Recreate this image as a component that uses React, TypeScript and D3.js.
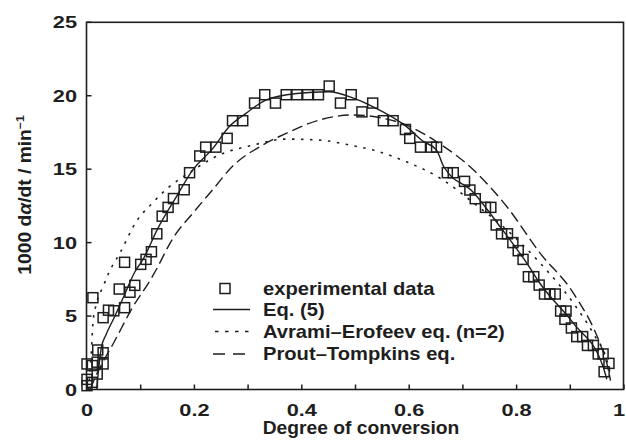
import React from "react";
import * as d3 from "d3";

// Experimental data (degree of conversion, 1000 dα/dt)
const expAlpha = [
  0.0, 0.01, 0.0, 0.019, 0.0, 0.01, 0.019, 0.03, 0.02, 0.03, 0.011, 0.03, 0.04, 0.05, 0.06, 0.07, 0.07, 0.08, 0.089,
  0.1, 0.11, 0.12, 0.13, 0.14, 0.151, 0.161, 0.181, 0.191, 0.21, 0.221, 0.24, 0.261, 0.271, 0.29, 0.312, 0.331,
  0.351, 0.371, 0.391, 0.411, 0.431, 0.451, 0.472, 0.492, 0.512, 0.532, 0.552, 0.57, 0.593, 0.601, 0.621, 0.641,
  0.651, 0.671, 0.682, 0.703, 0.713, 0.723, 0.742, 0.752, 0.762, 0.772, 0.783, 0.793, 0.803, 0.812, 0.822, 0.832,
  0.842, 0.852, 0.862, 0.872, 0.882, 0.892, 0.89, 0.902, 0.912, 0.923, 0.932, 0.943, 0.952, 0.961, 0.972, 0.963,
];
const expRate = [
  0.26, 0.49, 0.69, 1.05, 1.74, 1.63, 1.86, 1.74, 2.69, 2.5, 6.25, 4.89, 5.4, 5.36, 6.84, 5.57, 8.66, 6.62, 7.09,
  8.52, 8.86, 9.38, 10.6, 11.8, 12.4, 13.0, 13.6, 14.76, 15.9, 16.5, 16.5, 17.1, 18.3, 18.3, 19.5, 20.07,
  19.5, 20.07, 20.07, 20.07, 20.07, 20.66, 19.5, 20.07, 18.9, 19.5, 18.3, 18.3, 17.7, 17.1, 16.5, 16.5,
  16.5, 14.76, 14.76, 14.17, 13.58, 12.99, 12.4, 12.4, 11.2, 10.6, 10.6, 10.0, 9.45, 8.86, 7.68, 7.68,
  7.11, 6.5, 6.5, 6.5, 5.34, 5.34, 4.78, 4.19, 3.6, 3.6, 3.0, 3.0, 2.42, 2.42, 1.78, 1.21,
];

// Eq. (5)
const eq5Alpha = [0.018, 0.022, 0.027, 0.035, 0.05, 0.068, 0.089, 0.105, 0.131, 0.166, 0.197, 0.234, 0.265, 0.296, 0.333, 0.39, 0.451, 0.495, 0.533, 0.595, 0.626, 0.651, 0.664, 0.72, 0.769, 0.819, 0.844, 0.906, 0.961, 0.968];
const eq5Rate = [0, 1.5, 2.9, 3.7, 4.85, 6.3, 8.0, 8.9, 10.9, 13.1, 14.95, 16.4, 17.9, 18.8, 19.7, 20.15, 20.27, 19.85, 19.25, 17.9, 16.9, 16.3, 15.2, 13.4, 11.1, 8.6, 7.2, 4.5, 1.55, 0.7];

// Avrami–Erofeev eq. (n=2)
const avAlpha = [0.003, 0.008, 0.011, 0.018, 0.03, 0.04, 0.061, 0.093, 0.122, 0.153, 0.184, 0.246, 0.309, 0.371, 0.433, 0.495, 0.533, 0.595, 0.657, 0.72, 0.782, 0.844, 0.906, 0.943, 0.968, 0.975];
const avRate = [0, 2.5, 4.5, 5.9, 7.0, 7.9, 9.27, 11.5, 12.7, 13.8, 14.6, 15.96, 16.64, 17.05, 16.98, 16.6, 16.3, 15.5, 14.4, 12.7, 10.86, 8.6, 5.87, 3.8, 2.0, 1.0];

// Prout–Tompkins eq.
const ptAlpha = [0.006, 0.015, 0.03, 0.05, 0.085, 0.117, 0.128, 0.16, 0.197, 0.234, 0.271, 0.327, 0.371, 0.433, 0.495, 0.552, 0.595, 0.651, 0.72, 0.782, 0.844, 0.906, 0.955, 0.968, 0.975];
const ptRate = [0, 0.8, 1.9, 3.2, 5.6, 7.4, 8.1, 10.3, 12.0, 13.6, 15.2, 16.64, 17.44, 18.35, 18.69, 18.46, 18.0, 16.87, 14.94, 12.44, 9.27, 6.55, 3.15, 1.78, 0.6];

const xTicks = [0, 0.1, 0.2, 0.3, 0.4, 0.5, 0.6, 0.7, 0.8, 0.9, 1];
const xTickLabels = [0, 0.2, 0.4, 0.6, 0.8, 1];
const yTicks = [0, 5, 10, 15, 20, 25];

const legendLabels = ["experimental data", "Eq. (5)", "Avrami\u2013Erofeev eq. (n=2)", "Prout\u2013Tompkins eq."];

const W = 626;
const H = 443;
const FONT = "'Liberation Sans', Arial, Helvetica, sans-serif";
const INK = "#1e1e1e";

function SText(props: any) {
  const { x, y, sx = 1, rotate = 0, anchor = "start", size = 17, children } = props;
  return (
    <text
      transform={`translate(${x},${y}) rotate(${rotate}) scale(${sx},1)`}
      textAnchor={anchor}
      fontFamily={FONT}
      fontWeight="bold"
      fontSize={size}
      fill={INK}
    >
      {children}
    </text>
  );
}

export default function App() {
  const left = 86.5;
  const right = 623.5;
  const top = 22.3;
  const bottom = 389.5;
  const x = d3.scaleLinear().domain([0, 1]).range([87, 624]);
  const y = d3.scaleLinear().domain([0, 25]).range([bottom, top]);

  const line = d3
    .line<[number, number]>()
    .x((d) => x(d[0]))
    .y((d) => y(d[1]))
    .curve(d3.curveMonotoneX);

  const zip = (a: number[], b: number[]) => a.map((v, i) => [v, b[i]] as [number, number]);
  const eq5 = zip(eq5Alpha, eq5Rate);
  const av = zip(avAlpha, avRate);
  const pt = zip(ptAlpha, ptRate);
  const exp = zip(expAlpha, expRate);

  const sq = 10;
  const legX0 = 213;
  const legX1 = 250;
  const legText = 263;
  const legY = [288.5, 309.5, 331.5, 354];

  return (
    <svg width={W} height={H} style={{ position: "absolute", left: 0, top: 0, background: "#fff" }}>
      <rect x={0} y={0} width={W} height={H} fill="#fff" />
      {/* curves */}
      <path d={line(pt) || ""} fill="none" stroke={INK} strokeWidth={1.4} strokeDasharray="11,5" />
      <path d={line(av) || ""} fill="none" stroke={INK} strokeWidth={1.6} strokeDasharray="2.5,6.5" />
      <path d={line(eq5) || ""} fill="none" stroke={INK} strokeWidth={1.4} />
      {/* experimental squares */}
      {exp.map((d, i) => (
        <rect
          key={i}
          x={x(d[0]) - sq / 2}
          y={y(d[1]) - sq / 2}
          width={sq}
          height={sq}
          fill="none"
          stroke={INK}
          strokeWidth={1.5}
        />
      ))}
      {/* frame */}
      <rect x={left} y={top} width={right - left} height={bottom - top} fill="none" stroke={INK} strokeWidth={1.6} />
      {/* x ticks */}
      {xTicks.map((t, i) => (
        <line key={i} x1={x(t)} x2={x(t)} y1={bottom} y2={bottom - 5} stroke={INK} strokeWidth={1.5} />
      ))}
      {xTickLabels.map((t, i) => (
        <SText key={i} x={Math.min(x(t), 619)} y={416} sx={1.28} size={17} anchor="middle">
          {String(t)}
        </SText>
      ))}
      {/* y ticks */}
      {yTicks.map((t, i) => (
        <line key={i} x1={left} x2={left + 5} y1={y(t)} y2={y(t)} stroke={INK} strokeWidth={1.5} />
      ))}
      {yTicks.map((t, i) => (
        <SText key={i} x={77} y={y(t) + 6} sx={1.28} size={17} anchor="end">
          {String(t)}
        </SText>
      ))}
      {/* axis titles */}
      <SText x={361} y={434} sx={1.1} size={17.5} anchor="middle">
        Degree of conversion
      </SText>
      <SText x={31} y={195} sx={1.1} size={17.5} rotate={-90} anchor="middle">
        1000 d<tspan fontStyle="italic">α</tspan>/dt / min
        <tspan fontSize={11} dy={-7}>−1</tspan>
      </SText>
      {/* legend */}
      <rect x={225 - sq / 2} y={legY[0] - sq / 2} width={sq} height={sq} fill="none" stroke={INK} strokeWidth={1.5} />
      <line x1={legX0} x2={legX1} y1={legY[1]} y2={legY[1]} stroke={INK} strokeWidth={1.4} />
      <line x1={legX0 + 2} x2={legX1} y1={legY[2]} y2={legY[2]} stroke={INK} strokeWidth={1.6} strokeDasharray="3.5,6.5" />
      <line x1={legX0} x2={legX1} y1={legY[3]} y2={legY[3]} stroke={INK} strokeWidth={1.4} strokeDasharray="12,8" />
      {legendLabels.map((l, i) => (
        <SText key={i} x={legText} y={legY[i] + 6} sx={1.12} size={18}>
          {l}
        </SText>
      ))}
    </svg>
  );
}
